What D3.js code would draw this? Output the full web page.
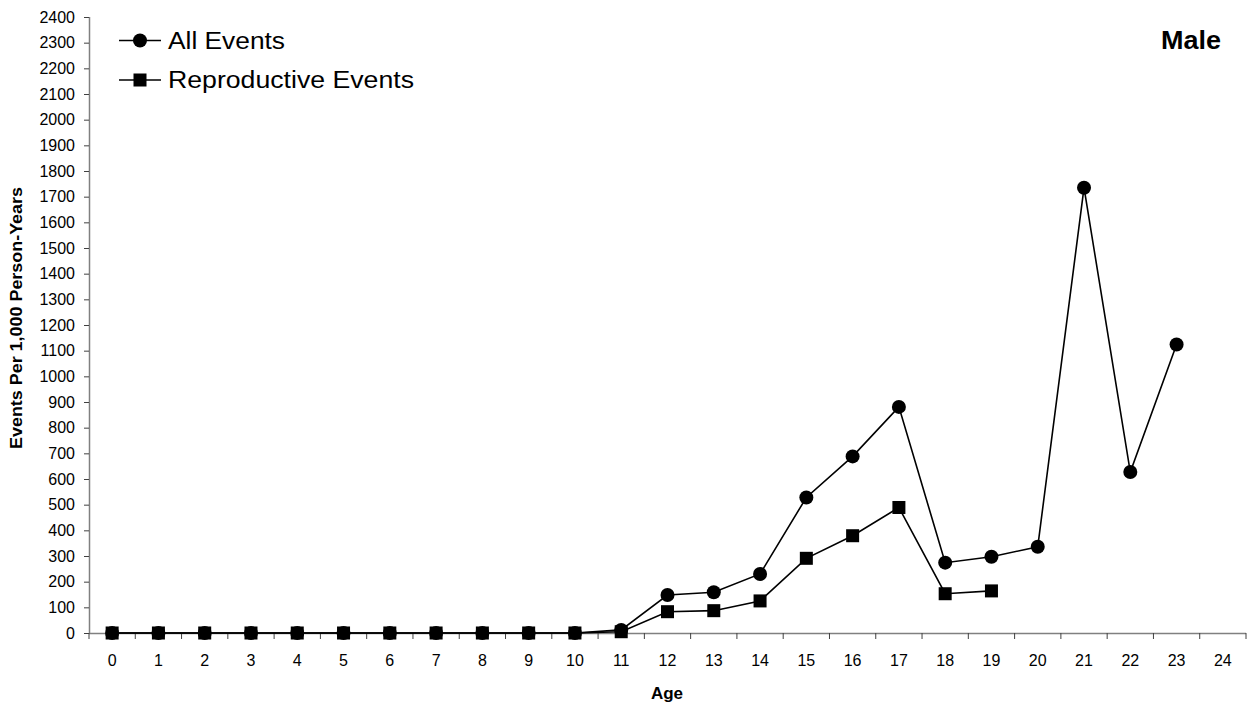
<!DOCTYPE html>
<html>
<head>
<meta charset="utf-8">
<script src="https://cdn.jsdelivr.net/npm/d3@7"></script>
<style>
  html, body { margin: 0; padding: 0; background: #fff; }
  text { font-family: "Liberation Sans", Arial, sans-serif; fill: #000; }
</style>
</head>
<body>
<svg id="chart" width="1256" height="706"></svg>
<script>
// ---- data ----
const ages = ["0","1","2","3","4","5","6","7","8","9","10","11","12","13","14","15","16","17","18","19","20","21","22","23","24"];
const allEvents = [0,0,0,0,0,0,0,0,0,0,0,12,148,159,230,528,688,881,274,297,336,1735,627,1124];
const reproEvents = [0,0,0,0,0,0,0,0,0,0,0,5,83,87,125,291,379,489,153,164];
const yTicks = [0,100,200,300,400,500,600,700,800,900,1000,1100,1200,1300,1400,1500,1600,1700,1800,1900,2000,2100,2200,2300,2400];
const seriesNames = ["All Events","Reproductive Events"];
const panelTitle = "Male";
const xTitle = "Age";
const yTitle = "Events Per 1,000 Person-Years";

// ---- layout ----
const svg = d3.select("#chart");
const mLeft = 89, mRight = 1246, mTop = 17, mBottom = 633;

const x = d3.scaleBand().domain(ages).range([mLeft, mRight]).paddingInner(0).paddingOuter(0);
const y = d3.scaleLinear().domain([0, 2400]).range([mBottom, mTop]);

// y axis
const yAxis = svg.append("g").attr("transform", `translate(${mLeft},0)`)
  .call(d3.axisLeft(y).tickValues(yTicks).tickSize(5).tickPadding(10).tickFormat(d3.format("d")));
yAxis.select(".domain").attr("stroke", "#808080").attr("stroke-width", 1.5).attr("d", `M0.5,${mTop}V${mBottom}`);
yAxis.selectAll(".tick line").attr("stroke", "#404040");
yAxis.selectAll(".tick text").style("font-size", "16px").attr("x", -14);

// x axis (ticks at category boundaries)
const xAxisG = svg.append("g").attr("transform", `translate(0,${mBottom})`);
xAxisG.append("line").attr("x1", mLeft).attr("x2", mRight).attr("y1", 0.5).attr("y2", 0.5)
  .attr("stroke", "#808080").attr("stroke-width", 1.5);
const boundaries = d3.range(ages.length + 1).map(i => mLeft + i * x.step());
xAxisG.selectAll("line.tk").data(boundaries).join("line").attr("class", "tk")
  .attr("x1", d => d).attr("x2", d => d).attr("y1", 0).attr("y2", 6)
  .attr("stroke", "#404040");
xAxisG.selectAll("text.lbl").data(ages).join("text").attr("class", "lbl")
  .attr("x", d => x(d) + x.bandwidth() / 2).attr("y", 33)
  .attr("text-anchor", "middle").style("font-size", "16px").text(d => d);

// axis titles
svg.append("text").attr("x", 667).attr("y", 699).attr("text-anchor", "middle")
  .style("font-size", "17px").style("font-weight", "bold").text(xTitle);
svg.append("text").attr("transform", "translate(22,318) rotate(-90)").attr("text-anchor", "middle")
  .style("font-size", "17px").style("font-weight", "bold")
  .attr("textLength", 262).attr("lengthAdjust", "spacingAndGlyphs").text(yTitle);

// panel title
svg.append("text").attr("x", 1221).attr("y", 49).attr("text-anchor", "end")
  .style("font-size", "25px").style("font-weight", "bold")
  .attr("textLength", 60).attr("lengthAdjust", "spacingAndGlyphs").text(panelTitle);

// ---- series ----
const cx = i => x(ages[i]) + x.bandwidth() / 2;
const line = d3.line().x((d, i) => cx(i)).y(d => y(d));

svg.append("path").datum(allEvents).attr("d", line)
  .attr("fill", "none").attr("stroke", "#000").attr("stroke-width", 1.6);
svg.append("g").selectAll("circle").data(allEvents).join("circle")
  .attr("cx", (d, i) => cx(i)).attr("cy", d => y(d)).attr("r", 7).attr("fill", "#000");

svg.append("path").datum(reproEvents).attr("d", line)
  .attr("fill", "none").attr("stroke", "#000").attr("stroke-width", 1.6);
const sq = 13;
svg.append("g").selectAll("rect").data(reproEvents).join("rect")
  .attr("x", (d, i) => cx(i) - sq / 2).attr("y", d => y(d) - sq / 2)
  .attr("width", sq).attr("height", sq).attr("fill", "#000");

// ---- legend ----
const legend = svg.append("g");
const legY = [40.5, 80];
legend.append("line").attr("x1", 119).attr("x2", 161).attr("y1", legY[0]).attr("y2", legY[0]).attr("stroke", "#000").attr("stroke-width", 1.6);
legend.append("circle").attr("cx", 140).attr("cy", legY[0]).attr("r", 7).attr("fill", "#000");
legend.append("text").attr("x", 168).attr("y", legY[0] + 8).style("font-size", "23px")
  .attr("textLength", 117).attr("lengthAdjust", "spacingAndGlyphs").text(seriesNames[0]);
legend.append("line").attr("x1", 119).attr("x2", 161).attr("y1", legY[1]).attr("y2", legY[1]).attr("stroke", "#000").attr("stroke-width", 1.6);
legend.append("rect").attr("x", 140 - sq / 2).attr("y", legY[1] - sq / 2).attr("width", sq).attr("height", sq).attr("fill", "#000");
legend.append("text").attr("x", 168).attr("y", legY[1] + 8).style("font-size", "23px")
  .attr("textLength", 246).attr("lengthAdjust", "spacingAndGlyphs").text(seriesNames[1]);
</script>
</body>
</html>
